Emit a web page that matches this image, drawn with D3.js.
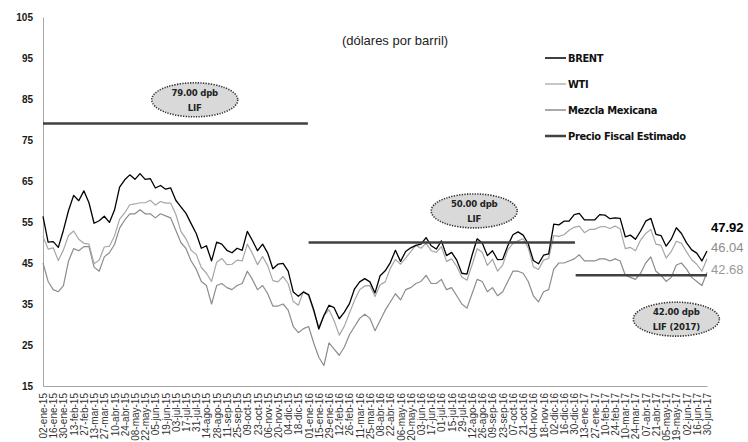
<!DOCTYPE html>
<html>
<head>
<meta charset="utf-8">
<script src="https://cdn.jsdelivr.net/npm/d3@7"></script>
<style>
  body { margin: 0; background: #fff; }
  svg { display: block; }
</style>
</head>
<body>
<div id="chart"></div>
<script>
// etiquetas del eje x (quincenales)
const xLabels = ["02-ene-15","16-ene-15","30-ene-15","13-feb-15","27-feb-15","13-mar-15","27-mar-15","10-abr-15","24-abr-15","08-may-15","22-may-15","05-jun-15","19-jun-15","03-jul-15","17-jul-15","31-jul-15","14-ago-15","28-ago-15","11-sep-15","25-sep-15","09-oct-15","23-oct-15","06-nov-15","20-nov-15","04-dic-15","18-dic-15",
  "01-ene-16","15-ene-16","29-ene-16","12-feb-16","26-feb-16","11-mar-16","25-mar-16","08-abr-16","22-abr-16","06-may-16","20-may-16","03-jun-16","17-jun-16","01-jul-16","15-jul-16","29-jul-16","12-ago-16","26-ago-16","09-sep-16","23-sep-16","07-oct-16","21-oct-16","04-nov-16","18-nov-16","02-dic-16","16-dic-16","30-dic-16",
  "13-ene-17","27-ene-17","10-feb-17","24-feb-17","10-mar-17","24-mar-17","07-abr-17","21-abr-17","05-may-17","19-may-17","02-jun-17","16-jun-17","30-jun-17"];

// precios semanales (viernes), dólares por barril
const brent = [56.4,50.1,50.2,48.8,53.0,57.8,61.5,60.2,62.6,59.7,54.7,55.3,56.4,54.9,57.9,63.5,65.3,66.5,65.4,66.8,65.4,65.6,63.3,63.9,63.0,63.3,60.3,58.7,57.1,54.6,52.2,48.6,49.2,45.5,50.1,49.6,48.1,47.5,48.6,48.1,52.7,50.5,48.0,49.6,47.4,43.6,44.7,44.9,43.0,37.9,36.9,37.9,
  37.3,33.6,28.9,32.2,34.7,34.1,31.4,33.0,35.1,38.7,40.4,41.2,40.4,37.7,41.9,43.1,45.1,48.1,45.4,47.8,48.7,49.3,49.6,51.2,49.2,48.4,50.4,46.8,47.6,45.7,42.5,42.3,46.9,50.9,49.9,46.8,48.0,45.8,45.9,49.2,51.9,52.6,51.8,49.7,45.6,44.8,46.9,47.2,54.5,54.3,55.2,55.2,56.8,
  57.1,55.5,55.5,55.5,56.8,56.7,55.8,56.0,55.9,51.4,51.8,50.8,52.8,55.2,55.9,52.0,51.7,49.1,50.8,53.6,52.2,49.9,48.2,47.4,45.5,47.92];
const wti = [51.5,48.4,48.7,45.6,48.2,51.7,52.8,50.8,49.8,49.6,44.8,45.7,48.9,49.1,51.6,55.7,57.2,59.2,59.4,59.7,59.7,60.3,59.1,60.0,59.6,59.6,56.9,52.7,50.9,48.1,47.1,43.9,42.5,40.5,45.2,46.1,44.6,44.7,45.7,45.5,49.6,47.3,44.6,46.6,44.3,40.7,40.4,41.7,40.0,35.6,34.7,38.1,
  37.0,33.2,29.4,32.2,33.6,30.9,27.4,29.6,32.8,35.9,38.5,39.4,39.5,36.8,39.7,40.4,43.7,45.9,44.7,46.2,47.8,49.3,48.6,49.8,48.0,47.6,49.0,45.4,46.0,44.2,41.6,40.8,44.5,48.5,47.6,44.4,45.9,43.0,44.5,48.2,49.8,50.4,50.9,48.7,44.1,43.4,45.7,46.1,51.7,51.5,51.9,53.0,53.7,
  54.0,52.4,53.2,53.2,53.8,53.9,53.4,54.0,53.3,48.5,48.8,48.0,50.6,52.2,53.2,49.6,49.3,46.2,47.8,50.3,49.8,47.7,45.8,44.7,43.0,46.04];
const mezcla = [45.0,40.5,38.5,38.0,39.5,45.5,48.5,48.0,49.0,49.0,44.0,43.0,46.5,47.5,49.5,53.5,55.5,57.0,57.0,58.0,57.0,57.0,56.0,57.0,56.5,56.0,53.0,50.0,48.5,45.5,43.5,40.5,39.5,35.0,39.5,40.0,39.0,38.5,39.5,40.0,43.0,41.0,38.5,39.5,37.5,34.5,34.5,35.0,33.5,29.5,28.0,29.0,
  29.5,25.5,22.0,20.0,25.5,24.0,22.5,24.5,27.5,29.5,31.5,32.5,31.5,28.5,31.0,33.5,35.5,37.5,36.0,38.5,39.0,40.0,40.5,42.0,40.0,40.0,41.0,38.5,39.0,37.0,35.0,34.0,37.5,41.0,40.5,38.0,39.0,37.0,38.0,40.5,43.0,43.0,42.5,40.5,37.0,35.5,38.0,38.5,43.5,45.0,45.0,45.5,46.0,
  47.0,45.5,45.5,45.5,46.0,46.0,45.5,46.0,45.5,42.0,41.5,41.0,42.5,45.0,46.5,43.0,42.0,40.5,41.5,44.5,45.0,43.5,41.5,40.5,39.5,42.68];

// precio fiscal estimado (LIF) por año
const fiscalYears = [2015, 2016, 2017];
const fiscalValues = [79, 50, 42];
const fiscalNotes = [["79.00 dpb", "LIF"], ["50.00 dpb", "LIF"], ["42.00 dpb", "LIF (2017)"]];

const yTicks = [15, 25, 35, 45, 55, 65, 75, 85, 95, 105];
const seriesNames = ["BRENT", "WTI", "Mezcla Mexicana", "Precio Fiscal Estimado"];

const width = 748, height = 442;
const narrow = '"Liberation Sans Narrow", "Arial Narrow", "DejaVu Sans Condensed", sans-serif';
const sans = '"Liberation Sans", Arial, sans-serif';

const meses = { ene: 0, feb: 1, mar: 2, abr: 3, may: 4, jun: 5, jul: 6, ago: 7, sep: 8, oct: 9, nov: 10, dic: 11 };
function parseFecha(s) {
    const [d, m, a] = s.split("-");
    return new Date(2000 + +a, meses[m], +d);
}

const start = parseFecha(xLabels[0]);
const end = parseFecha(xLabels[xLabels.length - 1]);
const weeks = brent.map((_, i) => d3.timeDay.offset(start, 7 * i));

const x = d3.scaleTime().domain([start, end]).range([43, 707]);
const y = d3.scaleLinear().domain([15, 105]).range([386, 17]);

const svg = d3.select("#chart").append("svg")
    .attr("width", width)
    .attr("height", height)
    .style("background", "#fff");

// ejes
const yAxis = svg.append("g")
    .attr("transform", "translate(43,0)")
    .call(d3.axisLeft(y).tickValues(yTicks).tickSize(0).tickSizeOuter(0).tickPadding(10));
yAxis.select(".domain").attr("stroke", "#a6a6a6");
yAxis.selectAll("text")
    .style("font-family", sans)
    .style("font-size", "10px")
    .style("font-weight", "bold")
    .attr("fill", "#1a1a1a");

const xAxis = svg.append("g")
    .attr("transform", "translate(0,386)")
    .call(d3.axisBottom(x)
        .tickValues(xLabels.map(parseFecha))
        .tickSize(0).tickSizeOuter(0)
        .tickFormat((d, i) => xLabels[i]));
xAxis.select(".domain").attr("stroke", "#a6a6a6").attr("stroke-width", 1.2);
xAxis.selectAll("text")
    .attr("transform", "rotate(-90)")
    .attr("text-anchor", "end")
    .attr("x", -7)
    .attr("y", 0)
    .attr("dy", "0.35em")
    .style("font-family", sans)
    .style("font-size", "10px")
    .attr("fill", "#333");

// series
const series = [
    { name: "Mezcla Mexicana", values: mezcla, color: "#8c8c8c", w: 1.2 },
    { name: "WTI", values: wti, color: "#a6a6a6", w: 1.2 },
    { name: "BRENT", values: brent, color: "#000", w: 1.3 }
];
const line = d3.line().x((d, i) => x(weeks[i])).y(d => y(d));

svg.append("g").selectAll("path")
    .data(series)
    .join("path")
    .attr("fill", "none")
    .attr("stroke", d => d.color)
    .attr("stroke-width", d => d.w)
    .attr("stroke-linejoin", "round")
    .attr("d", d => line(d.values));

// precio fiscal
const fiscal = svg.append("g");
fiscalYears.forEach((yr, i) => {
    const a = d3.max([start, new Date(yr, 0, 1)]);
    const b = d3.min([end, new Date(yr, 11, 31)]);
    fiscal.append("line")
        .attr("x1", x(a)).attr("x2", x(b))
        .attr("y1", y(fiscalValues[i])).attr("y2", y(fiscalValues[i]))
        .attr("stroke", "#404040")
        .attr("stroke-width", 2.5);
});

// globos de anotación
const notePos = [
    { at: new Date(2015, 6, 29), v: 84.8 },
    { at: new Date(2016, 7, 15), v: 57.7 },
    { at: new Date(2017, 4, 19), v: 31.3 }
];
notePos.forEach((p, i) => {
    const cx = x(p.at), cy = y(p.v);
    const g = svg.append("g");
    g.append("ellipse")
        .attr("cx", cx).attr("cy", cy)
        .attr("rx", 43).attr("ry", 17)
        .attr("fill", "#d9d9d9")
        .attr("stroke", "#333")
        .attr("stroke-width", 1.6)
        .attr("stroke-dasharray", "1.3,1.3");
    fiscalNotes[i].forEach((t, j) => {
        g.append("text")
            .attr("x", cx).attr("y", cy + (j === 0 ? -7 : 8))
            .attr("dy", "0.35em")
            .attr("text-anchor", "middle")
            .style("font-family", narrow)
            .style("font-size", "9.5px")
            .style("font-weight", "bold")
            .style("letter-spacing", "-0.2px")
            .attr("fill", "#222")
            .text(t);
    });
});

// valores al cierre
const lastIdx = brent.length - 1;
const endLabels = [
    { v: brent[lastIdx], off: -24, color: "#000", weight: "bold" },
    { v: wti[lastIdx], off: -11, color: "#8c8c8c", weight: "normal" },
    { v: mezcla[lastIdx], off: -3.5, color: "#999", weight: "normal" }
];
svg.append("g").selectAll("text")
    .data(endLabels)
    .join("text")
    .attr("x", 711)
    .attr("y", d => y(d.v) + d.off)
    .attr("dy", "0.35em")
    .style("font-family", sans)
    .style("font-size", "13px")
    .style("font-weight", d => d.weight)
    .attr("fill", d => d.color)
    .text(d => d3.format(".2f")(d.v));

// título
svg.append("text")
    .attr("x", 395).attr("y", 40)
    .attr("dy", "0.35em")
    .attr("text-anchor", "middle")
    .style("font-family", sans)
    .style("font-size", "13px")
    .attr("fill", "#222")
    .text("(dólares por barril)");

// leyenda
const legendColors = ["#000", "#b3b3b3", "#8c8c8c", "#404040"];
const legendWidths = [1.5, 1.5, 1.5, 2.5];
const legend = svg.append("g").attr("transform", "translate(545,58)");
seriesNames.forEach((name, i) => {
    const row = legend.append("g").attr("transform", `translate(0,${i * 26})`);
    row.append("line")
        .attr("x1", 0).attr("x2", 21)
        .attr("stroke", legendColors[i])
        .attr("stroke-width", legendWidths[i]);
    row.append("text")
        .attr("x", 23)
        .attr("dy", "0.35em")
        .style("font-family", narrow)
        .style("font-size", "11px")
        .style("font-weight", "bold")
        .style("letter-spacing", "-0.35px")
        .attr("fill", "#111")
        .text(name);
});
</script>
</body>
</html>
